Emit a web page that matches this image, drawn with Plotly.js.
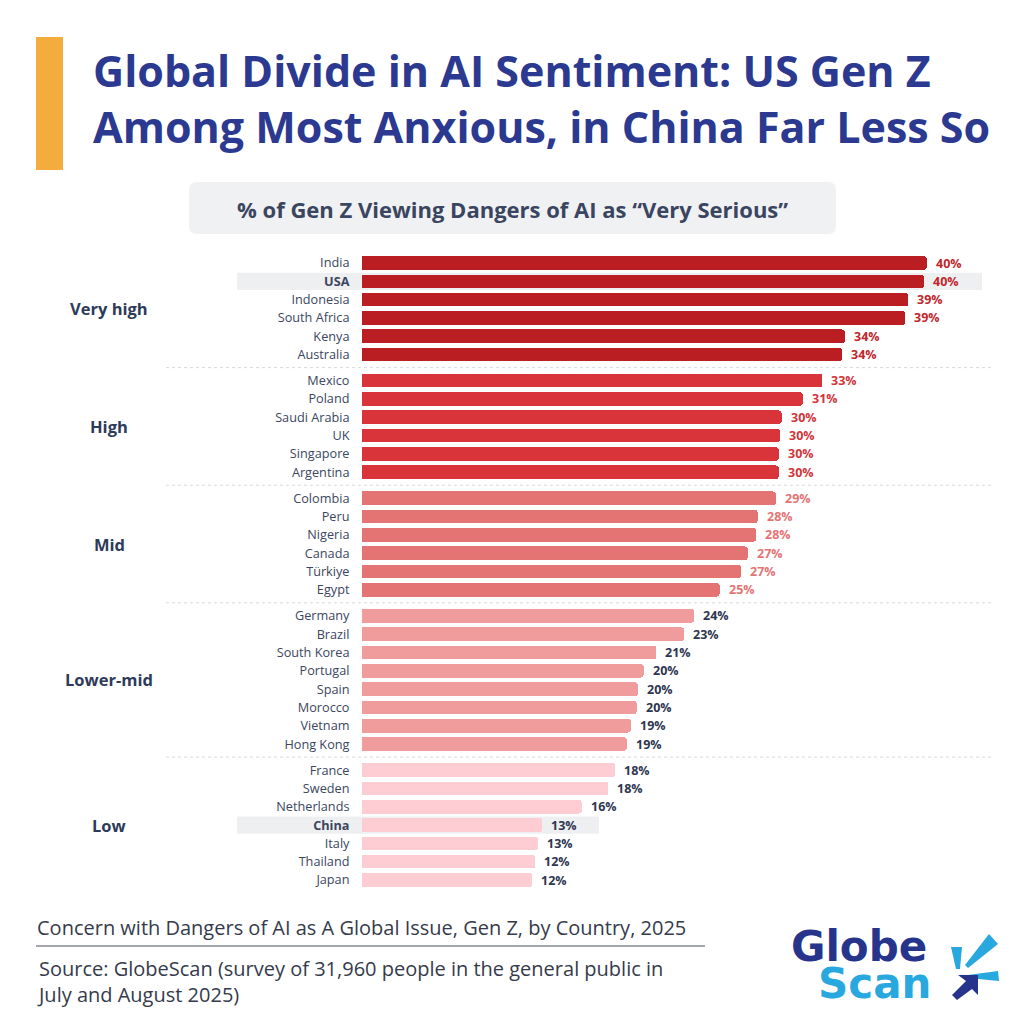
<!DOCTYPE html>
<html><head><meta charset="utf-8">
<script src="https://cdn.plot.ly/plotly-3.0.1.min.js"></script>
<style>html,body{margin:0;padding:0;background:#fff;} #chart{width:1024px;height:1021px;}</style>
</head><body><div id="chart"></div>
<script>
// ---------- DATA ----------
const groupNames = ["Very high", "High", "Mid", "Lower-mid", "Low"];
const groupSizes = [6, 6, 6, 8, 7];
const countries = ["India","USA","Indonesia","South Africa","Kenya","Australia",
  "Mexico","Poland","Saudi Arabia","UK","Singapore","Argentina",
  "Colombia","Peru","Nigeria","Canada","Türkiye","Egypt",
  "Germany","Brazil","South Korea","Portugal","Spain","Morocco","Vietnam","Hong Kong",
  "France","Sweden","Netherlands","China","Italy","Thailand","Japan"];
const values = [40.1,39.9,38.8,38.6,34.3,34.1,
  32.7,31.3,29.8,29.7,29.6,29.6,
  29.4,28.1,28.0,27.4,26.9,25.4,
  23.6,22.9,20.9,20.0,19.6,19.5,19.1,18.8,
  18.0,17.5,15.6,12.8,12.5,12.3,12.1];
const valueLabels = ["40%","40%","39%","39%","34%","34%",
  "33%","31%","30%","30%","30%","30%",
  "29%","28%","28%","27%","27%","25%",
  "24%","23%","21%","20%","20%","20%","19%","19%",
  "18%","18%","16%","13%","13%","12%","12%"];
const highlighted = ["USA", "China"];
const titleLines = ["Global Divide in AI Sentiment: US Gen Z", "Among Most Anxious, in China Far Less So"];
const subtitle = "% of Gen Z Viewing Dangers of AI as “Very Serious”";
const caption = "Concern with Dangers of AI as A Global Issue, Gen Z, by Country, 2025";
const sourceLines = ["Source: GlobeScan (survey of 31,960 people in the general public in", "July and August 2025)"];

// ---------- STYLE ----------
const barColors = ["#BA1E22", "#D8343A", "#E47474", "#F09C9C", "#FDCDD3"];
const labelColors = ["#C0272D", "#D2353B", "#E47474", "#2E3650", "#2E3650"];
const navy = "#2B3990";
const textDark = "#3B4660";
const FONT = "Open Sans";
const W = 1024, H = 1021;
const px = x => x / W, py = y => 1 - y / H;
const GAP = 0.42;
const ROW0 = 263, STEP = 18.32;

// positions
const pos = [], grp = [];
let r = 0;
groupSizes.forEach((n, g) => { for (let i = 0; i < n; i++) { pos.push(r + g * GAP); grp.push(g); r++; } });
const last = pos[pos.length - 1];
const yTopPx = ROW0 - STEP, yBotPx = ROW0 + (last + 1) * STEP;

const trace = {
  type: "bar", orientation: "h",
  x: values, y: pos,
  width: 0.74,
  marker: { color: grp.map(g => barColors[g]), cornerradius: 3, line: { width: 0 } },
  hoverinfo: "skip", showlegend: false
};

const shapes = [];
const annotations = [];
function note(x, y, text, font, xanchor, align) {
  annotations.push({ xref: "paper", yref: "paper", x: px(x), y: py(y), xanchor: xanchor || "left", yanchor: "middle", align: align || "left", showarrow: false, text: text, font: font });
}

// orange accent bar
shapes.push({ type: "rect", xref: "paper", yref: "paper", x0: px(36), x1: px(63), y0: py(170), y1: py(37), fillcolor: "#F4AC3D", line: { width: 0 } });

// title (two lines)
note(91, 99, "<b>" + titleLines.join("<br>") + "</b>", { family: FONT, size: 43, color: navy });

// subtitle rounded box
function roundRect(x0, y0, x1, y1, rr) {
  const X = v => px(v).toFixed(5), Y = v => py(v).toFixed(5);
  return `M${X(x0 + rr)},${Y(y0)} L${X(x1 - rr)},${Y(y0)} Q${X(x1)},${Y(y0)} ${X(x1)},${Y(y0 + rr)} L${X(x1)},${Y(y1 - rr)} Q${X(x1)},${Y(y1)} ${X(x1 - rr)},${Y(y1)} L${X(x0 + rr)},${Y(y1)} Q${X(x0)},${Y(y1)} ${X(x0)},${Y(y1 - rr)} L${X(x0)},${Y(y0 + rr)} Q${X(x0)},${Y(y0)} ${X(x0 + rr)},${Y(y0)} Z`;
}
shapes.push({ type: "path", xref: "paper", yref: "paper", path: roundRect(189, 182, 836, 234, 8), fillcolor: "#F0F1F3", line: { width: 0 } });
note(512, 209, "<b>" + subtitle + "</b>", { family: FONT, size: 22, color: "#3A4560" }, "center", "center");

// highlight rows
const hlRight = { "USA": 982, "China": 599 };
countries.forEach((c, i) => {
  if (highlighted.includes(c)) {
    shapes.push({ type: "rect", layer: "below", xref: "paper", yref: "y", x0: px(237), x1: px(hlRight[c]), y0: pos[i] - 0.47, y1: pos[i] + 0.47, fillcolor: "#EEEFF1", line: { width: 0 } });
  }
});

// separators between groups + group labels
let startIdx = 0;
groupSizes.forEach((n, g) => {
  if (g > 0) {
    const ySep = pos[startIdx] - (1 + GAP) / 2;
    shapes.push({ type: "line", xref: "paper", yref: "y", x0: px(166), x1: px(992), y0: ySep, y1: ySep, line: { color: "#D6D9DF", width: 1, dash: "3px,3px" } });
  }
  const mid = (pos[startIdx] + pos[startIdx + n - 1]) / 2;
  annotations.push({ xref: "paper", yref: "y", x: px(109), y: mid, xanchor: "center", yanchor: "middle", showarrow: false,
    text: "<b>" + groupNames[g] + "</b>", font: { family: FONT, size: 16.5, color: "#2E3A59" } });
  startIdx += n;
});

// value labels
values.forEach((v, i) => {
  annotations.push({ xref: "x", yref: "y", x: v, y: pos[i], xanchor: "left", yanchor: "middle", xshift: 7, showarrow: false,
    text: "<b>" + valueLabels[i] + "</b>", font: { family: FONT, size: 12.5, color: labelColors[grp[i]] } });
});

// footer
const footFont = { family: FONT, size: 20, color: "#353B4C" };
note(35, 927, caption, footFont);
shapes.push({ type: "line", xref: "paper", yref: "paper", x0: px(36), x1: px(705), y0: py(946), y1: py(946), line: { color: "#4A4F5C", width: 1 } });
note(35, 981, sourceLines.join("<br>"), footFont);

// logo
note(789, 946, "<b>Globe</b>", { family: "DejaVu Sans", size: 42, color: "#27348B" });
note(816, 983, "<b>Scan</b>", { family: "DejaVu Sans", size: 42, color: "#29A8E0" });
function poly(pts) { return "M" + pts.map(p => px(p[0]).toFixed(5) + "," + py(p[1]).toFixed(5)).join(" L") + " Z"; }
shapes.push({ type: "path", xref: "paper", yref: "paper", path: poly([[951,947],[962,947],[960,969],[956,969]]), fillcolor: "#29A8E0", line: { width: 0 } });
shapes.push({ type: "path", xref: "paper", yref: "paper", path: poly([[989,934],[998,944],[968,968],[965,965]]), fillcolor: "#29A8E0", line: { width: 0 } });
shapes.push({ type: "path", xref: "paper", yref: "paper", path: poly([[998,971],[999,981],[968,978],[968,975]]), fillcolor: "#29A8E0", line: { width: 0 } });
shapes.push({ type: "path", xref: "paper", yref: "paper", path: poly([[958,975],[978,975],[978,995],[972,989],[957,1000],[952,995],[966,981]]), fillcolor: "#27348B", line: { width: 0 } });

const layout = {
  width: W, height: H,
  margin: { l: 0, r: 0, t: 0, b: 0, pad: 0 },
  paper_bgcolor: "#FFFFFF", plot_bgcolor: "rgba(0,0,0,0)",
  showlegend: false,
  xaxis: { domain: [px(362), px(992)], range: [0, 630 / 14.08], showgrid: false, zeroline: false, showticklabels: false, showline: false, fixedrange: true },
  yaxis: { domain: [py(yBotPx), py(yTopPx)], range: [last + 1, -1], showgrid: false, zeroline: false, showline: false,
    tickmode: "array", tickvals: pos,
    ticktext: countries.map(c => highlighted.includes(c) ? "<b>" + c + "</b>" : c),
    ticks: "outside", ticklen: 9, tickcolor: "rgba(0,0,0,0)",
    tickfont: { family: FONT, size: 12.7, color: textDark }, fixedrange: true },
  bargap: 0,
  shapes: shapes, annotations: annotations
};

Plotly.newPlot("chart", [trace], layout, { displayModeBar: false, staticPlot: true });
</script>
</body></html>
